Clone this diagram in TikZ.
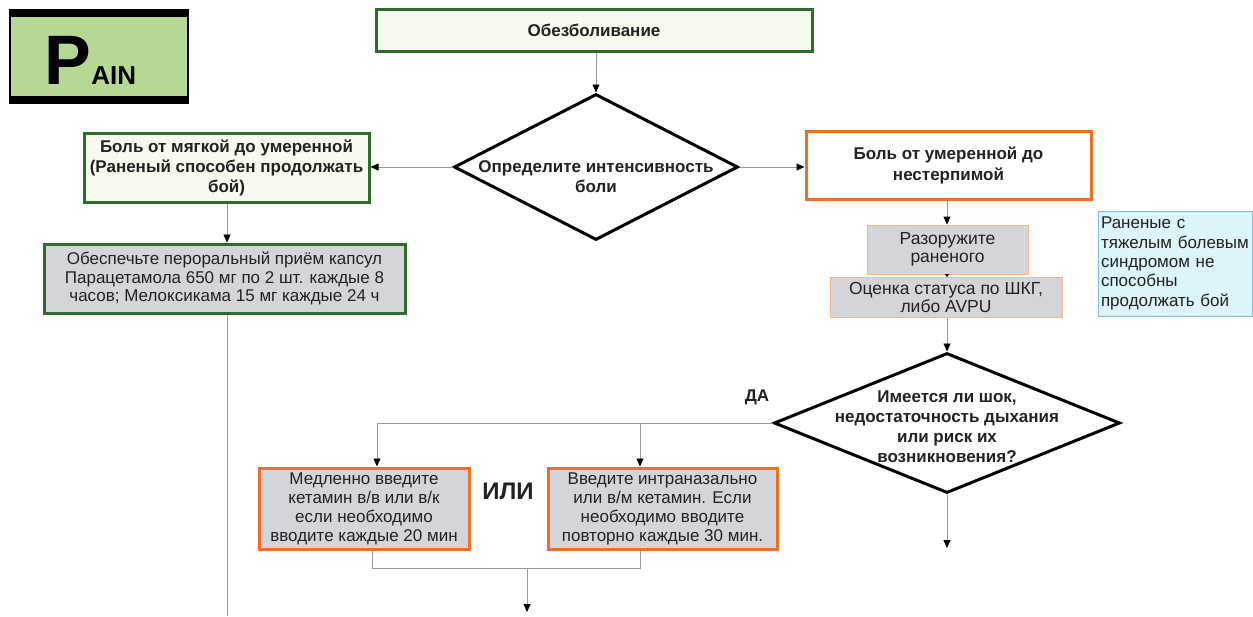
\documentclass[tikz,border=0pt]{standalone}
\usepackage{fontspec}
\setmainfont{Liberation Sans}
\usetikzlibrary{arrows.meta,shapes.geometric}
\definecolor{dkgreen}{HTML}{2F6B2A}
\definecolor{palegreen}{HTML}{F7FBEF}
\definecolor{orng}{HTML}{F26F22}
\definecolor{ltorng}{HTML}{F4B890}
\definecolor{boxgray}{HTML}{D4D4DB}
\definecolor{notefill}{HTML}{DDF5FA}
\definecolor{noteline}{HTML}{7DBED0}
\definecolor{painfill}{HTML}{B7D795}
\definecolor{txt}{HTML}{222222}
\definecolor{conn}{HTML}{999999}
\tikzset{
  base/.style={rectangle, inner sep=1pt, align=center, text=txt, font=\fontsize{17}{18.5}\selectfont},
  greenbox/.style={base, draw=dkgreen, line width=3pt, fill=palegreen, font=\bfseries\fontsize{17}{20}\selectfont},
  greengray/.style={base, draw=dkgreen, line width=3pt, fill=boxgray},
  orangebox/.style={base, draw=orng, line width=3pt, fill=white, font=\bfseries\fontsize{17}{21}\selectfont},
  orangegray/.style={base, draw=orng, line width=3pt, fill=boxgray, font=\fontsize{17}{19}\selectfont},
  graybox/.style={base, draw=ltorng, line width=0.8pt, fill=boxgray, font=\fontsize{17.5}{18}\selectfont},
  notebox/.style={base, draw=noteline, line width=0.8pt, fill=notefill, align=left},
  dia/.style={diamond, draw=black, line width=3pt, fill=white, inner sep=0pt},
  diatext/.style={align=center, text=txt, inner sep=0pt, font=\bfseries\fontsize{17}{20}\selectfont},
  conn/.style={draw=conn, line width=0.8pt},
  arr/.style={conn, -{Triangle[width=7pt,length=8pt,fill=black,color=black]}},
}
\begin{document}
\begin{tikzpicture}[x=1pt,y=-1pt]
\useasboundingbox (0,0) rectangle (1253,616);
% PAIN logo
\node[rectangle, fill=painfill, draw=black, line width=1.5pt, minimum width=178pt, minimum height=93pt, inner sep=0pt] (pain) at (99,56.5) {};
\fill[black] (pain.north west) rectangle ([yshift=-8pt]pain.north east);
\fill[black] ([yshift=8pt]pain.south west) rectangle (pain.south east);
\node[anchor=base west, inner sep=0pt, font=\bfseries\fontsize{70}{70}\selectfont] (pletter) at (44,84) {P};
\node[anchor=base west, inner sep=0pt, font=\bfseries\fontsize{26}{26}\selectfont] (ain) at (pletter.base east) {AIN};

% nodes
\node[greenbox, minimum width=436pt, minimum height=42pt] (title) at (594,30) {Обезболивание};
\node[dia, minimum width=284pt, minimum height=146pt] (d1) at (596,167) {};
\node[diatext] (d1t) at ([yshift=-10pt]d1.center) {Определите интенсивность\\боли};
\node[greenbox, minimum width=285pt, minimum height=69pt] (left) at (226.5,167.5) {Боль от мягкой до умеренной\\(Раненый способен продолжать\\бой)};
\node[orangebox, minimum width=285pt, minimum height=68pt] (right) at (948.5,165) {Боль от умеренной до\\нестерпимой};
\node[greengray, minimum width=361pt, minimum height=69pt] (oral) at (224.5,278.5) {Обеспечьте пероральный приём капсул\\Парацетамола 650 мг по 2 шт. каждые 8\\часов; Мелоксикама 15 мг каждые 24 ч};
\node[graybox, minimum width=161pt, minimum height=49pt] (disarm) at (947.5,249.5) {Разоружите\\раненого};
\node[graybox, minimum width=232pt, minimum height=40pt] (status) at (946,297.5) {Оценка статуса по ШКГ,\\либо AVPU};
\node[notebox, minimum width=154pt, minimum height=105pt, text width=148pt, font=\fontsize{17}{19.3}\selectfont] (note) at (1175,263.5) {Раненые с\\тяжелым болевым\\синдромом не\\способны\\продолжать бой};
\node[dia, minimum width=346pt, minimum height=140pt] (d2) at (947,423) {};
\node[diatext] (d2t) at ([yshift=-4pt]d2.center) {Имеется ли шок,\\недостаточность дыхания\\или риск их\\возникновения?};
\node[orangegray, minimum width=210pt, minimum height=81pt] (keti) at (364,508.5) {Медленно введите\\кетамин в/в или в/к\\если необходимо\\вводите каждые 20 мин};
\node[orangegray, minimum width=229pt, minimum height=81pt] (ketn) at (662.5,508.5) {Введите интраназально\\или в/м кетамин. Если\\необходимо вводите\\повторно каждые 30 мин.};
\node[text=txt, font=\bfseries\fontsize{24}{24}\selectfont] (ili) at (508,491) {ИЛИ};
\node[text=txt, font=\bfseries\fontsize{17}{17}\selectfont] (da) at (757,397) {ДА};

% connectors
\draw[arr] (d1.north |- title.south) -- (d1.north);
\draw[arr] (d1.west) -- (d1.west -| left.east);
\draw[arr] (d1.east) -- (d1.east -| right.west);
\coordinate (lx) at (227,0);
\draw[arr] (lx |- left.south) -- (lx |- oral.north);
\coordinate (lend) at (227,616);
\draw[conn] (lx |- oral.south) -- (lend);
\coordinate (rx) at (947,0);
\draw[arr] (rx |- right.south) -- (rx |- disarm.north);
\draw[conn, -{Triangle[width=4pt,length=3pt,fill=black,color=black]}] (rx |- disarm.south) -- (rx |- status.north);
\draw[arr] (rx |- status.south) -- (d2.north);
\coordinate (j1) at (377,423);
\coordinate (j2) at (640,423);
\draw[conn] (d2.west) -- (j1);
\draw[arr] (j1) -- (j1 |- keti.north);
\draw[arr] (j2) -- (j2 |- ketn.north);
\coordinate (m1) at (372,568);
\coordinate (m2) at (640,568);
\coordinate (mc) at (527,568);
\coordinate (mend) at (527,612);
\draw[conn] (m1 |- keti.south) -- (m1) -- (m2) -- (m2 |- ketn.south);
\draw[arr] (mc) -- (mend);
\coordinate (d2end) at (947,548);
\draw[arr] (d2.south) -- (d2end);
\end{tikzpicture}
\end{document}
